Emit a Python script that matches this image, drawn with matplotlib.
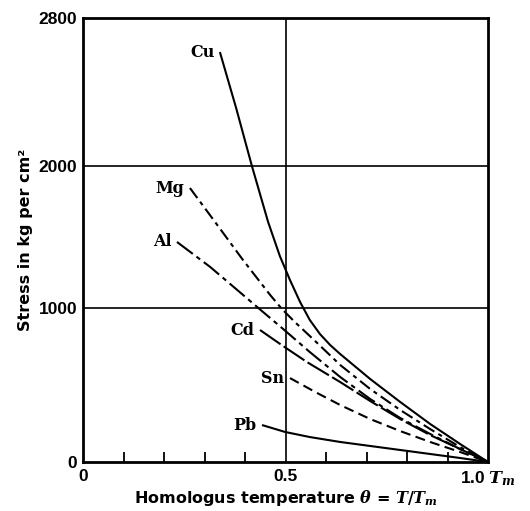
import numpy as np
import matplotlib
matplotlib.use("Agg")
import matplotlib.pyplot as plt

plt.rcParams["mathtext.fontset"] = "custom"
plt.rcParams["mathtext.it"] = "DejaVu Serif:italic:bold"
plt.rcParams["mathtext.rm"] = "DejaVu Serif:bold"
plt.rcParams["mathtext.bf"] = "DejaVu Serif:bold"

# ---- data ----
theta_cu = [0.338, 0.378, 0.417, 0.457, 0.486, 0.511, 0.536, 0.560, 0.585, 0.610,
            0.635, 0.709, 0.783, 0.857, 0.931, 1.0]
stress_cu = [2616, 2314, 2000, 1606, 1366, 1197, 1042, 922, 831, 760,
             701, 539, 390, 247, 117, 0]

theta_mg = [0.264, 0.326, 0.395, 0.462, 0.491, 0.523, 0.573, 0.635, 0.709, 0.783, 0.857, 0.931, 1.0]
stress_mg = [1845, 1606, 1338, 1092, 994, 909, 786, 630, 474, 338, 214, 97, 0]

theta_al = [0.232, 0.314, 0.375, 0.430, 0.494, 0.560, 0.635, 0.709, 0.783, 0.857, 0.931, 1.0]
stress_al = [1465, 1289, 1141, 1007, 864, 714, 552, 409, 286, 182, 84, 0]

theta_cd = [0.437, 0.494, 0.553, 0.635, 0.709, 0.783, 0.857, 0.931, 1.0]
stress_cd = [857, 753, 649, 519, 396, 279, 175, 84, 0]

theta_sn = [0.511, 0.573, 0.635, 0.709, 0.783, 0.857, 0.931, 1.0]
stress_sn = [545, 455, 370, 279, 201, 130, 65, 0]

theta_pb = [0.442, 0.499, 0.560, 0.635, 0.709, 0.783, 0.857, 0.931, 1.0]
stress_pb = [240, 195, 162, 130, 104, 78, 52, 26, 0]

metals = ["Cu", "Mg", "Al", "Cd", "Sn", "Pb"]

x_ticks = [0, 0.5, 1.0]
x_ticklabels = ["0", "0.5", r"1.0 $T_m$"]
y_ticks = [0, 1000, 2000, 2800]
y_ticklabels = ["0", "1000", "2000", "2800"]

# ---- styles ----
styles = {
    "Cu": dict(ls="-"),
    "Mg": dict(ls=(0, (6, 2.2, 2, 2.2))),
    "Al": dict(ls=(0, (9.5, 2.2, 2.2, 2.2))),
    "Cd": dict(ls=(0, (12, 1.8))),
    "Sn": dict(ls=(0, (4.8, 2.6))),
    "Pb": dict(ls="-"),
}
series = {
    "Cu": (theta_cu, stress_cu),
    "Mg": (theta_mg, stress_mg),
    "Al": (theta_al, stress_al),
    "Cd": (theta_cd, stress_cd),
    "Sn": (theta_sn, stress_sn),
    "Pb": (theta_pb, stress_pb),
}

# hand-drawn (non-uniform) stress axis of the original figure
_vals = np.array([0.0, 1000.0, 2000.0, 2800.0])
_pos = np.array([0.0, 154.0, 296.0, 444.0])


def fwd(v):
    return np.interp(np.asarray(v, dtype=float), _vals, _pos)


def inv(p):
    return np.interp(np.asarray(p, dtype=float), _pos, _vals)


fig = plt.figure(figsize=(5.30, 5.11), dpi=100)
ax = fig.add_axes([0.1566, 0.0959, 0.7642, 0.8689])
ax.set_yscale("function", functions=(fwd, inv))
ax.set_xlim(0, 1.0)
ax.set_ylim(0, 2800)

# grid lines
ax.axhline(1000, color="black", lw=1.2, zorder=1)
ax.axhline(2000, color="black", lw=1.2, zorder=1)
ax.axvline(0.5, color="black", lw=1.2, zorder=1)

for m in metals:
    th, st = series[m]
    ax.plot(th, st, color="black", lw=1.5, solid_capstyle="butt",
            dash_capstyle="butt", solid_joinstyle="round", **styles[m], zorder=3)
    ax.annotate(m, xy=(th[0], st[0]), xytext=(-4, 0), textcoords="offset points",
                ha="right", va="center", fontsize=11.5, fontweight="bold",
                family="DejaVu Serif")

for s in ax.spines.values():
    s.set_linewidth(2.0)

ax.set_xticks(x_ticks)
ax.set_xticklabels(x_ticklabels)
ax.set_xticks(np.arange(0.1, 1.0, 0.1), minor=True)
ax.tick_params(axis="x", which="major", length=0, pad=5)
ax.tick_params(axis="x", which="minor", direction="in", length=7, width=1.3)
ax.set_yticks(y_ticks)
ax.set_yticklabels(y_ticklabels)
ax.tick_params(axis="y", which="both", length=0, pad=4)
ax.yaxis.set_minor_locator(matplotlib.ticker.NullLocator())
for lab in ax.get_xticklabels() + ax.get_yticklabels():
    lab.set_fontsize(12.5)
    lab.set_fontweight("bold")
    lab.set_family("Liberation Sans")

ax.set_xlabel(r"Homologus temperature $\theta$ = $T/T_m$",
              fontsize=11.5, fontweight="bold", family="DejaVu Sans", labelpad=0)
ax.set_ylabel("Stress in kg per cm\u00b2", fontsize=11.5,
              fontweight="bold", family="DejaVu Sans", labelpad=4)

fig.savefig("out.png", dpi=100)
